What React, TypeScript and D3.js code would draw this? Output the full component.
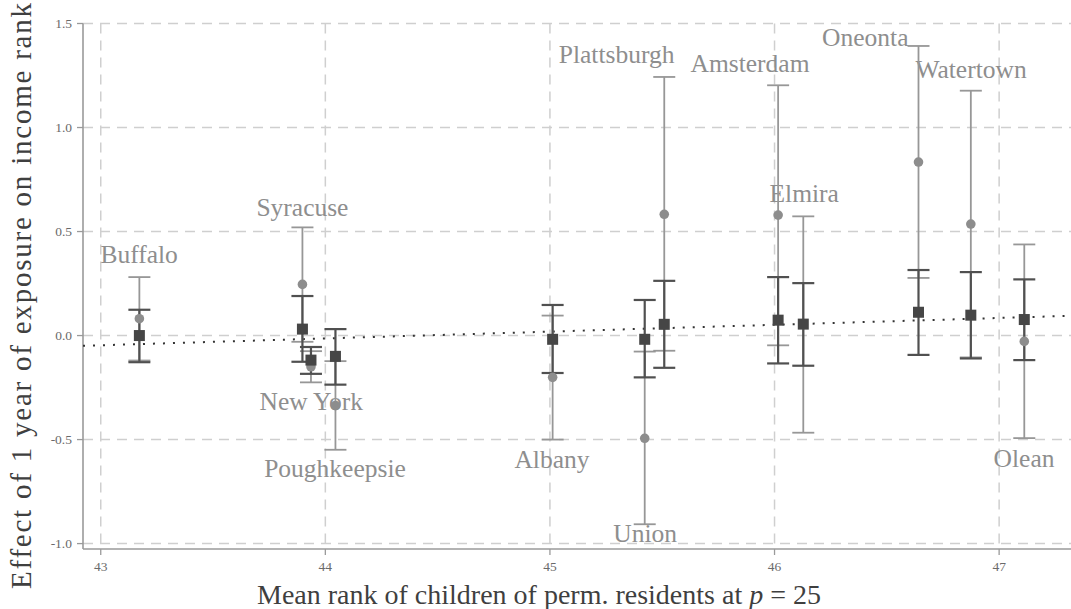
import React from 'react';
import * as d3 from 'd3';

const cities = ['Buffalo', 'Syracuse', 'New York', 'Poughkeepsie', 'Albany', 'Union', 'Plattsburgh', 'Amsterdam', 'Elmira', 'Oneonta', 'Watertown', 'Olean'];
const meanRank = [43.172, 43.898, 43.936, 44.045, 45.012, 45.422, 45.509, 46.016, 46.128, 46.641, 46.874, 47.112];

// light gray estimates (circles) with their intervals
const estA = [0.081, 0.246, -0.15, -0.337, -0.201, -0.494, 0.583, 0.579, 0.053, 0.834, 0.536, -0.028];
const estALo = [-0.12, -0.03, -0.225, -0.549, -0.5, -0.907, -0.073, -0.047, -0.467, 0.277, -0.105, -0.493];
const estAHi = [0.281, 0.52, -0.075, -0.123, 0.096, -0.077, 1.243, 1.203, 0.573, 1.392, 1.177, 0.438];

// dark estimates (squares) with their intervals
const estB = [0.0, 0.031, -0.118, -0.1, -0.018, -0.018, 0.054, 0.074, 0.055, 0.112, 0.098, 0.077];
const estBLo = [-0.128, -0.126, -0.184, -0.236, -0.18, -0.201, -0.155, -0.134, -0.145, -0.093, -0.11, -0.118];
const estBHi = [0.124, 0.19, -0.055, 0.031, 0.147, 0.171, 0.263, 0.281, 0.252, 0.315, 0.305, 0.27];

// label anchor positions (data units)
const labelX = [43.171, 43.898, 43.937, 44.043, 45.009, 45.424, 45.297, 45.891, 46.132, 46.404, 46.875, 47.111];
const labelY = [0.349, 0.574, -0.358, -0.679, -0.637, -0.991, 1.309, 1.268, 0.643, 1.393, 1.237, -0.632];

const xTicks = [43, 44, 45, 46, 47];
const yTicks = [-1.0, -0.5, 0.0, 0.5, 1.0, 1.5];

const fitSlope = 0.0328;
const fitAt43 = -0.0467;

export default function App() {
  const W = 1071;
  const H = 609;
  const left = 83;
  const right = 1071;
  const top = 23.5;
  const bottom = 549;
  const x = d3.scaleLinear().domain([42.921, 47.32]).range([left, right]);
  const y = d3.scaleLinear().domain([-1.026, 1.5]).range([bottom, top]);

  const serif = "'Liberation Serif', 'Times New Roman', serif";
  const lightCol = '#979797';
  const circCol = '#8d8d8d';
  const darkLine = '#505050';
  const sqCol = '#464646';
  const gridCol = '#cfcfcf';
  const axisCol = '#9a9a9a';
  const cap = 11;
  const sq = 11;

  const [d0, d1] = x.domain();
  const fitLine = d3.line<number>().x((v) => x(v)).y((v) => y(fitAt43 + fitSlope * (v - 43)));

  const idx = cities.map((_, i) => i);

  return (
    <svg width={W} height={H} style={{ position: 'absolute', left: 0, top: 0, background: '#fff' }}>
      {/* grid */}
      {yTicks.map((t) => (
        <line key={'gy' + t} x1={left} x2={right} y1={y(t)} y2={y(t)} stroke={gridCol} strokeWidth={1.5} strokeDasharray="10,7" />
      ))}
      {xTicks.map((t) => (
        <line key={'gx' + t} x1={x(t)} x2={x(t)} y1={top} y2={bottom} stroke={gridCol} strokeWidth={1.5} strokeDasharray="10,7" />
      ))}

      {/* axes */}
      <line x1={left} x2={left} y1={top} y2={bottom} stroke={axisCol} strokeWidth={1.6} />
      <line x1={left} x2={right} y1={bottom} y2={bottom} stroke={axisCol} strokeWidth={1.6} />
      {yTicks.map((t) => (
        <g key={'ty' + t}>
          <line x1={left - 6} x2={left} y1={y(t)} y2={y(t)} stroke={axisCol} strokeWidth={1.3} />
          <text x={left - 11} y={y(t)} dy="0.35em" textAnchor="end" fontFamily={serif} fontSize={13.5} fill="#6a6a6a">
            {t.toFixed(1)}
          </text>
        </g>
      ))}
      {xTicks.map((t) => (
        <g key={'tx' + t}>
          <line x1={x(t)} x2={x(t)} y1={bottom} y2={bottom + 6} stroke={axisCol} strokeWidth={1.3} />
          <text x={x(t)} y={571} textAnchor="middle" fontFamily={serif} fontSize={13.5} fill="#6a6a6a">
            {t}
          </text>
        </g>
      ))}

      {/* axis titles */}
      <text x={539} y={604} textAnchor="middle" fontFamily={serif} fontSize={28} fill="#3f3f3f">
        Mean rank of children of perm. residents at <tspan fontStyle="italic">p</tspan> = 25
      </text>
      <text transform="translate(31,296) rotate(-90)" textAnchor="middle" fontFamily={serif} fontSize={29} fill="#3f3f3f" textLength={586} lengthAdjust="spacing">
        Effect of 1 year of exposure on income rank
      </text>

      {/* labels */}
      {idx.map((i) => (
        <text key={'lab' + i} x={x(labelX[i])} y={y(labelY[i])} textAnchor="middle" fontFamily={serif} fontSize={25.5} fill="#8e8e8e">
          {cities[i]}
        </text>
      ))}

      {/* fitted line */}
      <path d={fitLine([d0, d1]) || ''} fill="none" stroke="#333" strokeWidth={2} strokeDasharray="2,8" />

      {/* light error bars */}
      {idx.map((i) => (
        <g key={'la' + i} stroke={lightCol} strokeWidth={1.8}>
          <line x1={x(meanRank[i])} x2={x(meanRank[i])} y1={y(estALo[i])} y2={y(estAHi[i])} />
          <line x1={x(meanRank[i]) - cap} x2={x(meanRank[i]) + cap} y1={y(estALo[i])} y2={y(estALo[i])} />
          <line x1={x(meanRank[i]) - cap} x2={x(meanRank[i]) + cap} y1={y(estAHi[i])} y2={y(estAHi[i])} />
        </g>
      ))}
      {/* dark error bars */}
      {idx.map((i) => (
        <g key={'lb' + i} stroke={darkLine} strokeWidth={2.2}>
          <line x1={x(meanRank[i])} x2={x(meanRank[i])} y1={y(estBLo[i])} y2={y(estBHi[i])} />
          <line x1={x(meanRank[i]) - cap} x2={x(meanRank[i]) + cap} y1={y(estBLo[i])} y2={y(estBLo[i])} />
          <line x1={x(meanRank[i]) - cap} x2={x(meanRank[i]) + cap} y1={y(estBHi[i])} y2={y(estBHi[i])} />
        </g>
      ))}
      {/* circles */}
      {idx.map((i) => (
        <circle key={'c' + i} cx={x(meanRank[i])} cy={y(estA[i])} r={4.8} fill={circCol} />
      ))}
      {/* squares */}
      {idx.map((i) => (
        <rect key={'s' + i} x={x(meanRank[i]) - sq / 2} y={y(estB[i]) - sq / 2} width={sq} height={sq} fill={sqCol} />
      ))}
    </svg>
  );
}
